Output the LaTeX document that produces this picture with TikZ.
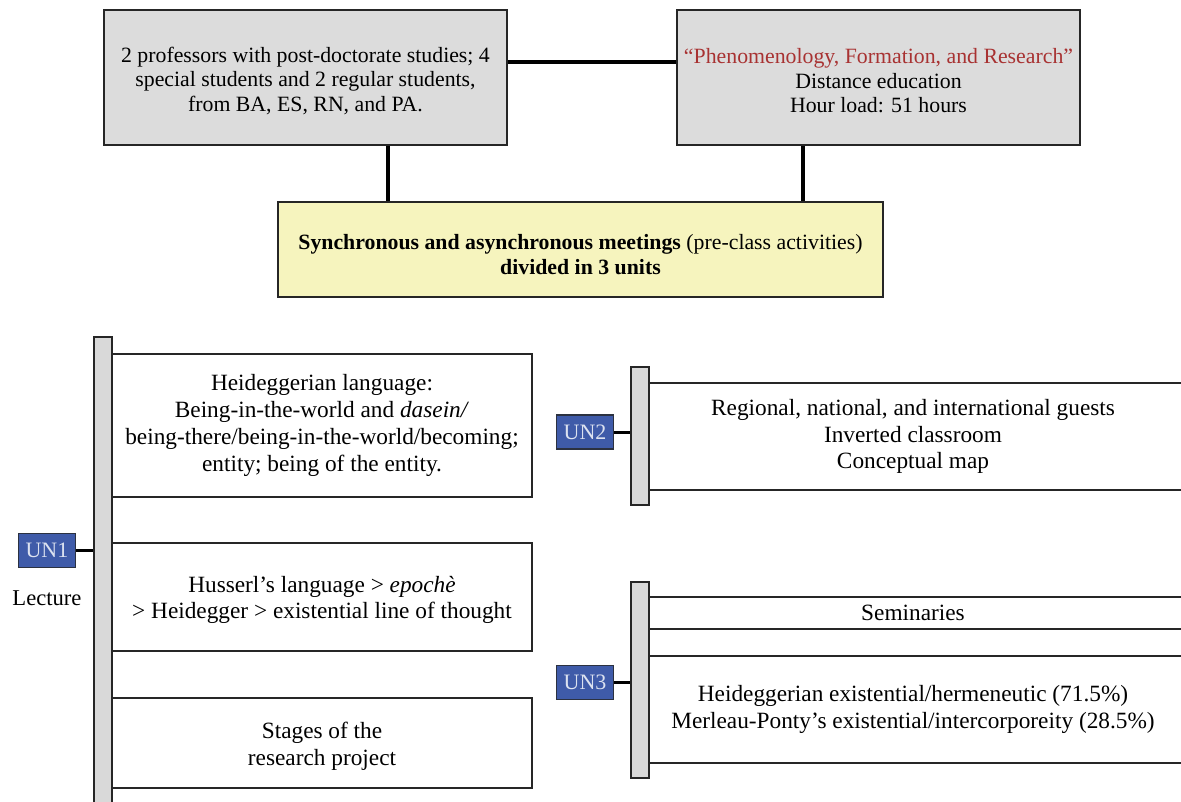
\documentclass[tikz,border=0pt]{standalone}
\usepackage{fontspec}
\setmainfont{Liberation Serif}
\definecolor{topgray}{HTML}{DCDCDC}
\definecolor{bargray}{HTML}{D9D9D9}
\definecolor{paleyellow}{HTML}{F6F4BE}
\definecolor{titlered}{HTML}{A83232}
\definecolor{unblue}{HTML}{3F5BA9}
\definecolor{unlight}{HTML}{DCE2F0}
\definecolor{edgecol}{HTML}{262626}
\begin{document}
\begin{tikzpicture}[x=1pt,y=-1pt,
  box/.style={draw=edgecol, line width=1.8pt, rectangle, inner sep=0pt, align=center},
  graybox/.style={box, fill=topgray, minimum width=403pt, minimum height=135pt, font=\fontsize{21.8}{24.5}\selectfont, text height=71pt},
  lowbox/.style={box, minimum width=420pt, font=\fontsize{23.3}{26.8}\selectfont},
  openbox/.style={rectangle, inner sep=0pt, align=center, minimum width=528pt, font=\fontsize{23.3}{26.3}\selectfont},
  bar/.style={draw=edgecol, line width=1.8pt, fill=bargray, minimum width=18pt, inner sep=0pt},
  unbox/.style={draw=edgecol!80!unblue, line width=1.6pt, fill=unblue, text=unlight, minimum width=57pt, minimum height=34pt, inner sep=0pt, font=\fontsize{22}{24}\selectfont},
  conn/.style={draw=black, line width=3.5pt},
  unconn/.style={draw=black, line width=3pt},
  edge/.style={draw=edgecol, line width=1.8pt}
]
\useasboundingbox (0,0) rectangle (1181,802);
\clip (0,0) rectangle (1181,802);

% top part
\node[graybox] (people) at (305.5,77.5) {2 professors with post-doctorate studies; 4\\special students and 2 regular students,\\from BA, ES, RN, and PA.};
\node[graybox] (course) at (878.5,77.5) {\textcolor{titlered}{“Phenomenology, Formation, and Research”}\\Distance education\\Hour load: 51 hours};
\node[box, fill=paleyellow, minimum width=605pt, minimum height=95pt, font=\fontsize{21.8}{25}\selectfont, text height=50pt] (meet) at (580.5,249.5) {\textbf{Synchronous and asynchronous meetings} (pre-class activities)\\\textbf{divided in 3 units}};

\draw[conn] ([yshift=15.5pt]people.east) -- ([yshift=15.5pt]course.west);
\draw[conn] ([xshift=82.5pt]people.south) -- ([xshift=82.5pt]people.south |- meet.north);
\draw[conn] ([xshift=-75.5pt]course.south) -- ([xshift=-75.5pt]course.south |- meet.north);

% unit 1
\node[lowbox, minimum height=143pt] (boxA) at (322,425.5) {Heideggerian language:\\Being-in-the-world and \textit{dasein/}\\being-there/being-in-the-world/becoming;\\entity; being of the entity.};
\node[lowbox, minimum height=108pt, text height=48.7pt] (boxB) at (322,597) {Husserl’s language > \textit{epochè}\\> Heidegger > existential line of thought};
\node[lowbox, minimum height=90pt, text height=49.7pt] (boxC) at (322,743) {Stages of the\\research project};
\node[bar, minimum height=483pt] (bar1) at (103,578.5) {};
\node[unbox] (un1) at (47,550.5) {UN1};
\node[font=\fontsize{22.6}{25}\selectfont] (lect) at (47,598) {Lecture};
\draw[unconn] (un1.east) -- (un1.east -| bar1.west);

% unit 2
\node[openbox, minimum height=107pt] (boxD) at (913,436.5) {Regional, national, and international guests\\Inverted classroom\\Conceptual map};
\draw[edge] (boxD.north west) -- ++(560,0);
\draw[edge] (boxD.south west) -- ++(560,0);
\node[bar, minimum height=138pt] (bar2) at (640,436) {};
\node[unbox] (un2) at (585,432) {UN2};
\draw[unconn] (un2.east) -- (un2.east -| bar2.west);

% unit 3
\node[openbox, minimum height=32pt] (boxE) at (913,613) {Seminaries};
\draw[edge] (boxE.north west) -- ++(560,0);
\draw[edge] (boxE.south west) -- ++(560,0);
\node[openbox, minimum height=107pt] (boxF) at (913,709.5) {Heideggerian existential/hermeneutic (71.5\%)\\Merleau-Ponty’s existential/intercorporeity (28.5\%)};
\draw[edge] (boxF.north west) -- ++(560,0);
\draw[edge] (boxF.south west) -- ++(560,0);
\node[bar, minimum height=196pt] (bar3) at (640,680) {};
\node[unbox] (un3) at (585,682.5) {UN3};
\draw[unconn] (un3.east) -- (un3.east -| bar3.west);
\end{tikzpicture}
\end{document}
